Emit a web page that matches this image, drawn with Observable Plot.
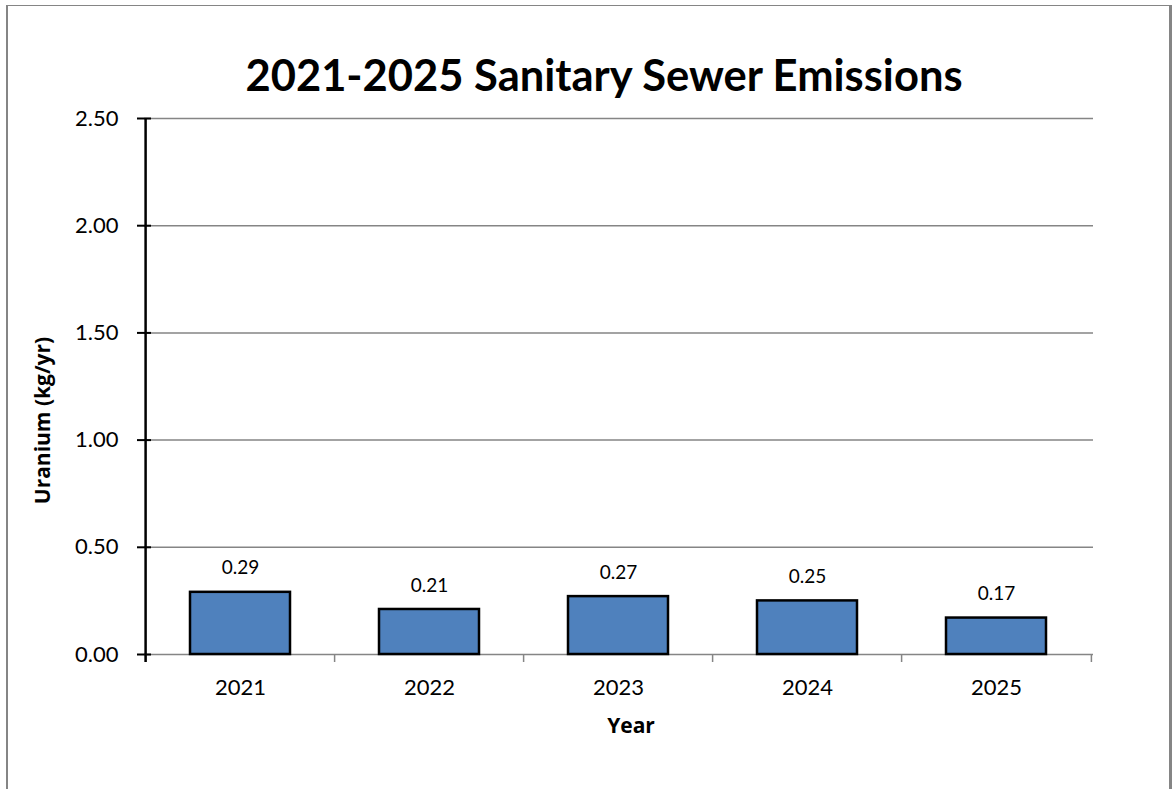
<!DOCTYPE html>
<html>
<head>
<meta charset="utf-8">
<script src="https://cdn.jsdelivr.net/npm/d3@7"></script>
<script src="https://cdn.jsdelivr.net/npm/@observablehq/plot@0.6"></script>
<style>
  html, body { margin: 0; padding: 0; background: #fff; }
  #wrap { position: relative; width: 1172px; height: 789px; overflow: hidden; font-family: Lato, "Open Sans", sans-serif; }
  #border { position: absolute; left: 6px; top: 5px; width: 1161px; height: 800px;
            border-top: 1px solid #858585; border-left: 2px solid #858585; border-right: 3px solid #858585; }
  #title { position: absolute; left: 0; width: 1208px; top: 52px; text-align: center;
           font-size: 43.5px; font-weight: bold; line-height: 44px; color: #000; }
  #chart { position: absolute; left: 0; top: 0; }
</style>
</head>
<body>
<div id="wrap">
  <div id="border"></div>
  <div id="chart"></div>
  <div id="title">2021-2025 Sanitary Sewer Emissions</div>
</div>
<script>
const years = ["2021", "2022", "2023", "2024", "2025"];
const uranium = [0.29, 0.21, 0.27, 0.25, 0.17];
const yTicks = [0, 0.5, 1.0, 1.5, 2.0, 2.5];
const yLabel = "Uranium (kg/yr)";
const xLabel = "Year";

const data = years.map((year, i) => ({year, value: uranium[i]}));

const W = 1172, H = 789, mL = 144, mR = 79, mT = 118, mB = 135;
const plotW = W - mL - mR;
const plotH = H - mT - mB;
const step = plotW / years.length;
const unitsPerPx = 2.5 / plotH;
const tickDown = -8 * unitsPerPx;
const font = "Lato, 'Open Sans', sans-serif";
const boldFont = "'Open Sans', Lato, sans-serif";

const chart = Plot.plot({
  width: W,
  height: H,
  marginLeft: mL,
  marginRight: mR,
  marginTop: mT,
  marginBottom: mB,
  style: {fontFamily: font, color: "#000", background: "transparent", overflow: "visible"},
  x: {domain: years, paddingInner: 0.47, paddingOuter: 0.235, label: null},
  y: {domain: [0, 2.5], label: null},
  marks: [
    Plot.gridY(yTicks, {stroke: "#858585", strokeOpacity: 1, strokeWidth: 1.5}),
    Plot.ruleY(yTicks, {insetLeft: -7, insetRight: plotW - 7, stroke: "#000", strokeWidth: 2}),
    Plot.ruleX(years, {x: d => d, y1: tickDown, y2: 0, dx: -step / 2, stroke: "#858585", strokeWidth: 1.5}),
    Plot.ruleX([years[years.length - 1]], {x: d => d, y1: tickDown, y2: 0, dx: step / 2, stroke: "#858585", strokeWidth: 1.5}),
    Plot.ruleX([years[0]], {x: d => d, y1: tickDown, y2: 2.5, dx: -step / 2, stroke: "#000", strokeWidth: 2.5}),
    Plot.barY(data, {x: "year", y: "value", fill: "#4F81BD", stroke: "#000", strokeWidth: 2.5}),
    Plot.text(data, {x: "year", y: "value", text: d => d3.format(".2f")(d.value), dy: -24, fontSize: 19, fill: "#000"}),
    Plot.axisY(yTicks, {tickSize: 0, tickPadding: 26, tickFormat: d3.format(".2f"), fontSize: 22, label: null}),
    Plot.axisX({tickSize: 0, tickPadding: 25, fontSize: 22, label: null}),
    Plot.text([yLabel], {frameAnchor: "left", textAnchor: "middle", rotate: -90, dx: -101, dy: 34, fontSize: 21, fontWeight: "bold", fontFamily: boldFont, fill: "#000"}),
    Plot.text([xLabel], {frameAnchor: "bottom", textAnchor: "middle", dx: 12, dy: 78, fontSize: 21, fontWeight: "bold", fontFamily: boldFont, fill: "#000"})
  ]
});
document.getElementById("chart").appendChild(chart);
</script>
</body>
</html>
